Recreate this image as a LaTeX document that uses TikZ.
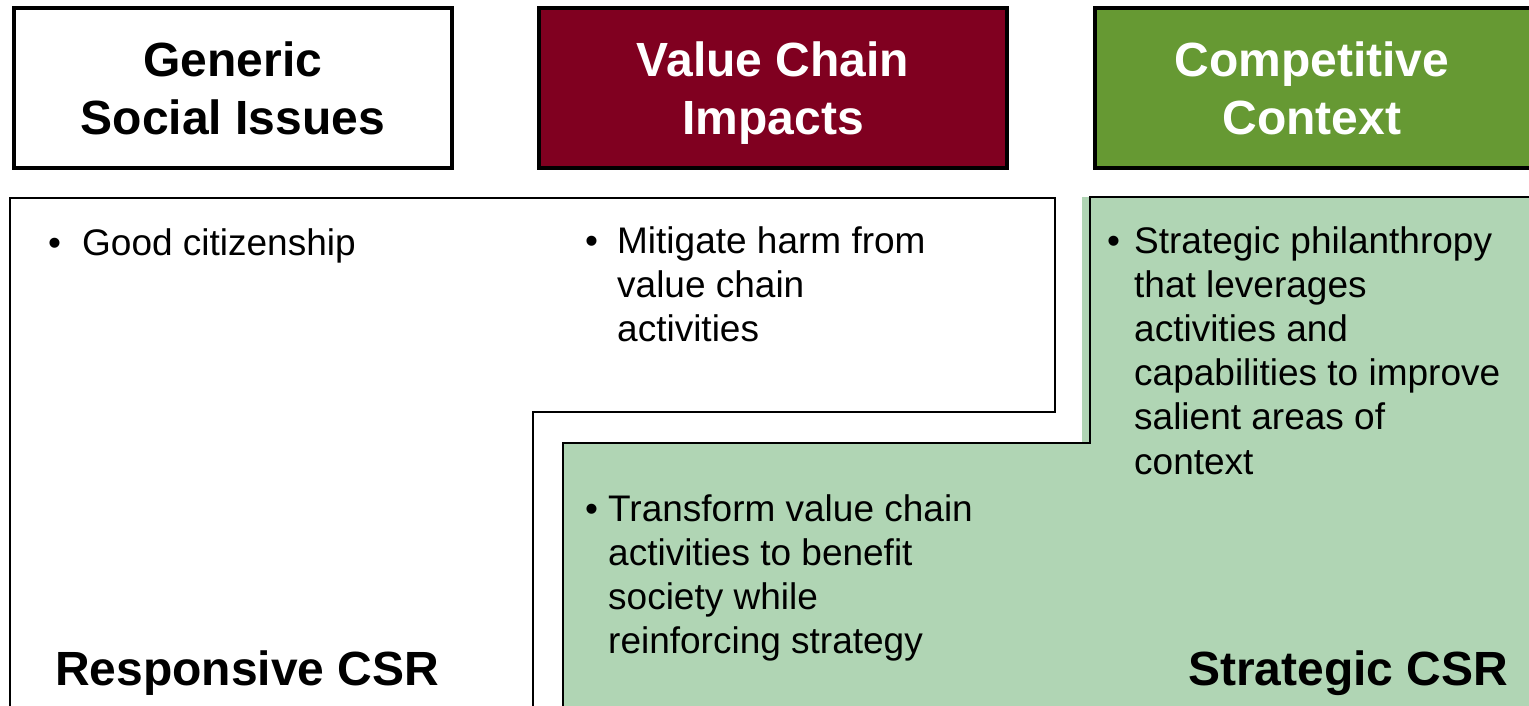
\documentclass[tikz,border=0pt]{standalone}
\usepackage{fontspec}
\setmainfont{Liberation Sans}
\definecolor{wine}{HTML}{800020}
\definecolor{leaf}{HTML}{669933}
\definecolor{mint}{HTML}{B0D5B4}
\newcommand{\hdrtext}[1]{\parbox[t]{430pt}{\centering #1}}
\newcommand{\bul}[2]{\makebox[#1][l]{•}\parbox[t]{560pt}{\raggedright #2}}
\begin{document}
\begin{tikzpicture}[x=1pt,y=-1pt,
  hdrbox/.style={draw=black, line width=4pt, anchor=north west, inner sep=0pt, minimum height=160pt},
  hdrlabel/.style={anchor=base, inner sep=0pt, font=\fontsize{48}{58}\selectfont\bfseries},
  bodytext/.style={anchor=base west, inner sep=0pt, font=\fontsize{37}{44.2}\selectfont},
  csrlabel/.style={anchor=base west, inner sep=0pt, font=\fontsize{48}{58}\selectfont\bfseries},
  outline/.style={draw=black, line width=1.6pt}]
\useasboundingbox (0,0) rectangle (1529,706);
\clip (0,0) rectangle (1529,706);
% green strategic region
\fill[mint] (1082,197) -- (1545,197) -- (1545,715) -- (563,715) -- (563,443) -- (1082,443) -- cycle;
% responsive outline
\draw[outline] (10,715) -- (10,198) -- (1055,198) -- (1055,412) -- (533,412) -- (533,715);
% strategic outline
\draw[outline] (563,715) -- (563,443) -- (1090,443) -- (1090,197) -- (1545,197);
% header boxes
\node[hdrbox, fill=white, minimum width=438pt] (gsi) at (12,6) {};
\node[hdrbox, fill=wine, minimum width=468pt] (vci) at (537,6) {};
\node[hdrbox, fill=leaf, minimum width=440pt] (cc) at (1093,6) {};
\node[hdrlabel, text=black] (gsit) at ([yshift=-71pt]gsi.north) {\hdrtext{Generic\\Social Issues}};
\node[hdrlabel, text=white] (vcit) at ([yshift=-71pt]vci.north) {\hdrtext{Value Chain\\Impacts}};
\node[hdrlabel, text=white] (cct) at (1312,77) {\hdrtext{Competitive\\Context}};
% bullets
\node[bodytext] (good) at (48,255) {\bul{34pt}{Good citizenship}};
\node[bodytext] (mitig) at (585,253) {\bul{32pt}{Mitigate harm from\\value chain\\activities}};
\node[bodytext] (philan) at (1107,253) {\bul{27pt}{Strategic philanthropy\\that leverages\\activities and\\capabilities to improve\\salient areas of\\context}};
\node[bodytext] (transf) at (585,521) {\bul{23pt}{Transform value chain\\activities to benefit\\society while\\reinforcing strategy}};
% CSR labels
\node[csrlabel] (resp) at (55,685) {Responsive CSR};
\node[csrlabel] (strat) at (1188,685) {Strategic CSR};
\end{tikzpicture}
\end{document}
